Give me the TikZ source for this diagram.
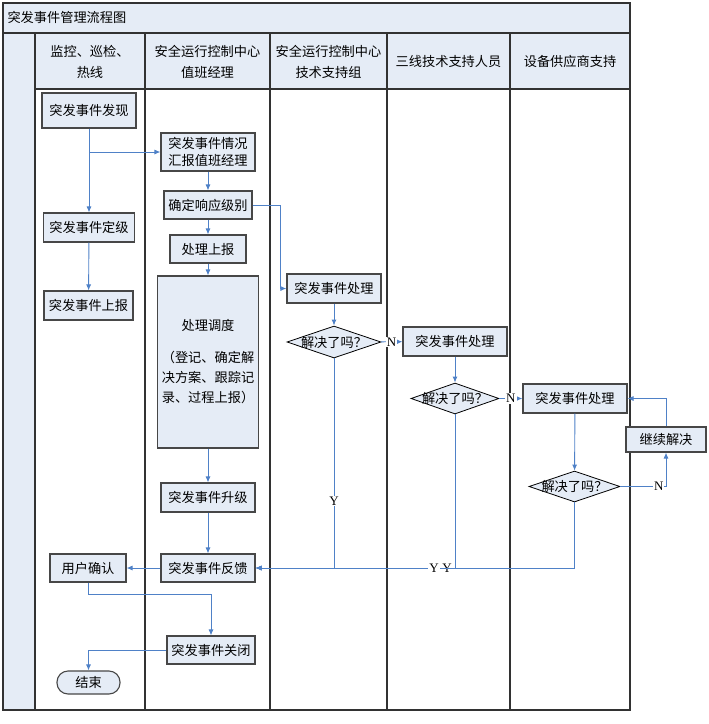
\documentclass[tikz,border=0pt]{standalone}
\usepackage{fontspec}
\setmainfont{Noto Sans CJK SC}
\newfontfamily\ynfont{Liberation Serif}
\usetikzlibrary{arrows.meta,shapes.geometric}
\definecolor{laneblue}{RGB}{229,236,246}
\definecolor{flowblue}{RGB}{79,129,199}
\definecolor{rulegray}{RGB}{50,50,50}

\begin{document}
\begin{tikzpicture}[x=1pt,y=-1pt,
    font=\fontsize{13.2}{17}\selectfont,
    box/.style={draw=rulegray!90,line width=1.1pt,fill=laneblue,inner sep=0pt,minimum height=28pt,align=center},
    ask/.style={diamond,draw=black,line width=0.8pt,fill=laneblue,inner sep=0pt,minimum width=94pt,minimum height=32pt},
    flow/.style={draw=flowblue,line width=0.9pt,-{Latex[length=6pt,width=5pt]}},
    yn/.style={fill=white,inner sep=1pt,font=\ynfont\fontsize{13}{13}\selectfont},
    lane/.style={align=center,font=\fontsize{13.2}{21}\selectfont}]
  \useasboundingbox (0,0) rectangle (709,724);
  \fill[laneblue] (3,3) rectangle (630,33);
  \fill[laneblue] (3,33) rectangle (35,710);
  \fill[laneblue] (35,33) rectangle (630,89);
  \draw[rulegray,line width=1.3pt] (3,3) rectangle (630,710);
  \draw[rulegray,line width=1.2pt] (3,33) -- (630,33);
  \draw[rulegray,line width=1.2pt] (35,89) -- (630,89);
  \foreach \x in {35,145,270,387,510}
    \draw[rulegray,line width=1.2pt] (\x,33) -- (\x,710);
  \node[anchor=west] (title) at (4,17) {突发事件管理流程图};
  \node[lane] (laneA) at (90,62) {监控、巡检、\\热线};
  \node[lane] (laneB) at (207.5,62) {安全运行控制中心\\值班经理};
  \node[lane] (laneC) at (328.5,62) {安全运行控制中心\\技术支持组};
  \node[lane] (laneD) at (448.5,61) {三线技术支持人员};
  \node[lane] (laneE) at (570,61) {设备供应商支持};

  \node[box,minimum width=94pt,minimum height=35pt] (find) at (89,110.5) {突发事件发现};
  \node[box,minimum width=94pt,minimum height=38pt] (brief) at (208,152) {突发事件情况\\汇报值班经理};
  \node[box,minimum width=88pt] (level) at (208,205) {确定响应级别};
  \node[box,minimum width=91pt,minimum height=29pt] (grade) at (89,227.5) {突发事件定级};
  \node[box,minimum width=76pt] (submit) at (208,249) {处理上报};
  \node[box,minimum width=89pt,minimum height=29pt] (notify) at (88.5,305.5) {突发事件上报};
  \node[box,minimum width=101pt,minimum height=172pt,font=\fontsize{13.2}{20}\selectfont] (dispatch) at (208,362)
    {处理调度\\[12pt]（登记、确定解\\决方案、跟踪记\\录、过程上报）};
  \node[box,minimum width=94pt,minimum height=29pt] (upgrade) at (208,497.5) {突发事件升级};
  \node[box,minimum width=94pt] (feedback) at (208,568) {突发事件反馈};
  \node[box,minimum width=76pt] (confirm) at (88,568) {用户确认};
  \node[box,minimum width=88pt] (close) at (211,650) {突发事件关闭};
  \node[box,minimum width=63pt,minimum height=23pt,rounded corners=11pt] (finish) at (88.5,682.5) {结束};

  \node[box,minimum width=94pt,minimum height=29pt] (tech) at (334,288.5) {突发事件处理};
  \node[ask,label=center:{解决了吗？}] (askA) at (334,342) {};
  \node[box,minimum width=104pt,minimum height=29pt] (third) at (455,341.5) {突发事件处理};
  \node[ask,minimum width=88pt,minimum height=31pt,label=center:{解决了吗？}] (askB) at (455,398.5) {};
  \node[box,minimum width=104pt,minimum height=29pt] (vendor) at (575,398.5) {突发事件处理};
  \node[ask,minimum width=91pt,minimum height=31pt,label=center:{解决了吗？}] (askC) at (574.5,486.5) {};
  \node[box,minimum width=80pt,minimum height=25pt] (retry) at (666,439.5) {继续解决};

  \draw[flow] (find) -- (grade);
  \draw[flow] (find.south |- brief.west) -- (brief.west);
  \draw[flow] (brief) -- (level);
  \draw[flow] (level) -- (submit);
  \draw[flow] (level.east) -| ([xshift=-6pt]tech.west) -- (tech.west);
  \draw[flow] (grade) -- (notify);
  \draw[flow] (submit) -- (dispatch);
  \draw[flow] (dispatch) -- (upgrade);
  \draw[flow] (upgrade) -- (feedback);
  \draw[flow] (feedback) -- (confirm);
  \draw[flow] (confirm.south) -- ++(0,12) -| (close.north);
  \draw[flow] (close.west) -| (finish.north);
  \draw[flow] (tech) -- (askA);
  \draw[flow] (askA) -- node[yn] {N} (third);
  \draw[flow] (askA.south) |- node[yn,pos=0.34] {Y} (feedback.east);
  \draw[flow] (third) -- (askB);
  \draw[flow] (askB) -- node[yn] {N} (vendor);
  \draw[flow] (askB.south) |- node[yn,pos=0.52] {Y} (feedback.east);
  \draw[flow] (vendor) -- (askC);
  \draw[flow] (askC.south) |- node[yn,pos=0.72] {Y} (feedback.east);
  \draw[flow] (askC.east) -| node[yn,pos=0.42] {N} (retry.south);
  \draw[flow] (retry.north) |- (vendor.east);
\end{tikzpicture}
\end{document}
